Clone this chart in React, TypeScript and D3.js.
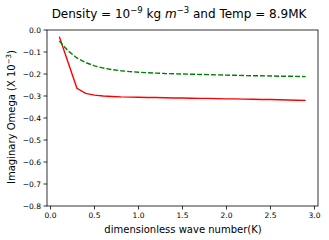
import React from 'react';
import * as d3 from 'd3';

const waveNumbers = [0.1, 0.2, 0.3, 0.4, 0.5, 0.6, 0.7, 0.8, 0.9, 1.0, 1.1, 1.2, 1.3, 1.4, 1.5,
  1.6, 1.7, 1.8, 1.9, 2.0, 2.1, 2.2, 2.3, 2.4, 2.5, 2.6, 2.7, 2.8, 2.9];
const redOmega = [-0.03, -0.148, -0.265, -0.288, -0.296, -0.3, -0.302, -0.304, -0.305, -0.306, -0.307,
  -0.307, -0.308, -0.309, -0.309, -0.31, -0.311, -0.311, -0.312, -0.313, -0.313, -0.314, -0.315,
  -0.316, -0.316, -0.317, -0.318, -0.319, -0.32];
const greenOmega = [-0.05, -0.095, -0.127, -0.148, -0.163, -0.173, -0.18, -0.185, -0.189, -0.192,
  -0.194, -0.196, -0.198, -0.199, -0.2, -0.201, -0.202, -0.203, -0.204, -0.205, -0.206, -0.207,
  -0.208, -0.208, -0.209, -0.21, -0.21, -0.211, -0.212];
const xTicks = [0, 0.5, 1.0, 1.5, 2.0, 2.5, 3.0];
const yTicks = [0, -0.1, -0.2, -0.3, -0.4, -0.5, -0.6, -0.7, -0.8];

const W = 329;
const H = 240;
const left = 47, right = 318, top = 30, bottom = 206;
const font = 'DejaVu Sans, sans-serif';

export default function App() {
  const x = d3.scaleLinear().domain([-0.04, 3.04]).range([left, right]);
  const y = d3.scaleLinear().domain([-0.8, 0]).range([bottom, top]);

  // lignes des deux séries
  const line = d3.line<number>()
    .x((_, i) => x(waveNumbers[i]))
    .y(d => y(d));

  return (
    <svg width={W} height={H} style={{ position: 'absolute', left: 0, top: 0, background: '#fff' }}
      fontFamily={font}>
      <text x={179} y={18} textAnchor="middle" fontSize={12} fill="#000">
        Density = 10<tspan dy={-5} fontSize={8.5}>−9</tspan>
        <tspan dy={5}> kg </tspan>
        <tspan fontStyle="italic">m</tspan>
        <tspan dy={-5} fontSize={8.5}>−3</tspan>
        <tspan dy={5}> and Temp = 8.9MK</tspan>
      </text>

      <path d={line(redOmega) ?? ''} fill="none" stroke="#ff0000" strokeWidth={1.4} />
      <path d={line(greenOmega) ?? ''} fill="none" stroke="#008000" strokeWidth={1.4}
        strokeDasharray="5,2" />

      <rect x={left} y={top} width={right - left} height={bottom - top} fill="none"
        stroke="#000" strokeWidth={0.8} />

      {xTicks.map(t => (
        <g key={'x' + t}>
          <line x1={x(t)} x2={x(t)} y1={bottom} y2={bottom + 3.5} stroke="#000" strokeWidth={0.8} />
          <text x={x(t)} y={bottom + 12} textAnchor="middle" fontSize={7.5} fill="#000">
            {t.toFixed(1)}
          </text>
        </g>
      ))}
      {yTicks.map(t => (
        <g key={'y' + t}>
          <line x1={left - 3.5} x2={left} y1={y(t)} y2={y(t)} stroke="#000" strokeWidth={0.8} />
          <text x={left - 6} y={y(t) + 2.7} textAnchor="end" fontSize={7.5} fill="#000">
            {t === 0 ? '0.0' : '−' + Math.abs(t).toFixed(1)}
          </text>
        </g>
      ))}

      <text x={183} y={233} textAnchor="middle" fontSize={10} fill="#000">
        dimensionless wave number(K)
      </text>
      <text transform={`translate(15,117) rotate(-90)`} textAnchor="middle" fontSize={10} fill="#000">
        Imaginary Omega (X 10<tspan dy={-4} fontSize={7}>−3</tspan><tspan dy={4}>)</tspan>
      </text>
    </svg>
  );
}
